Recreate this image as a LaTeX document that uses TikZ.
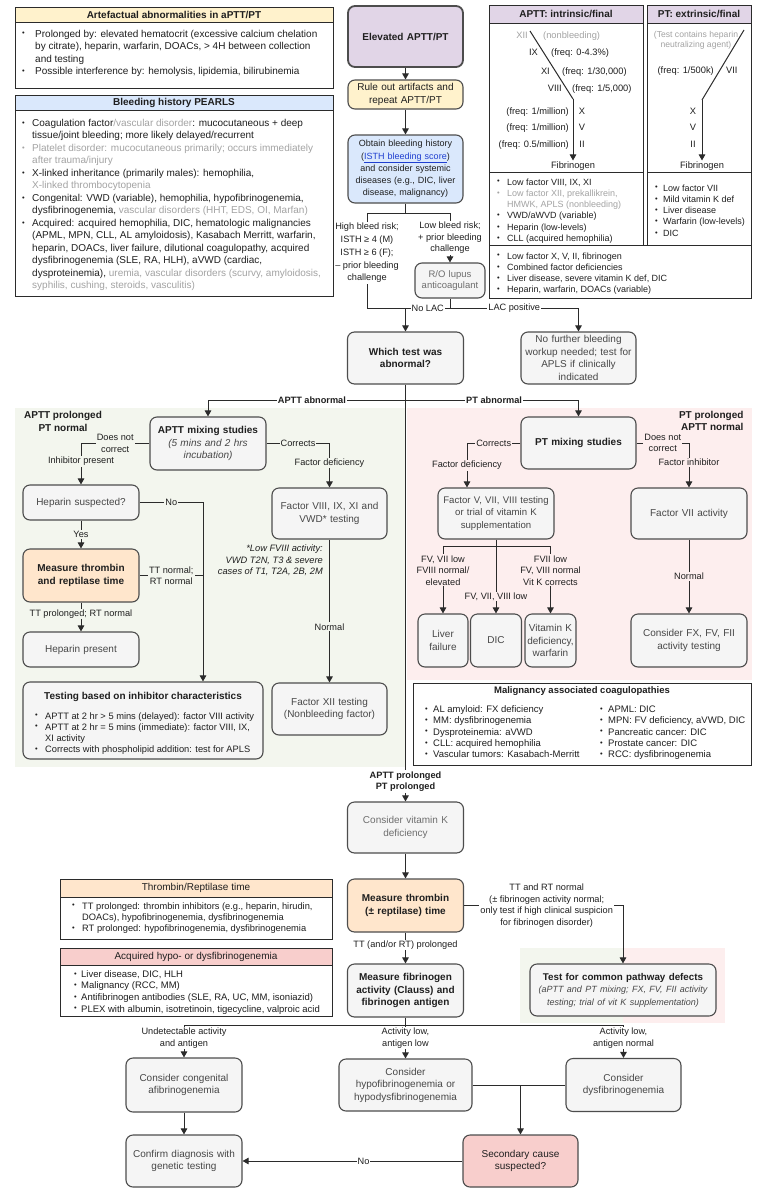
\documentclass[tikz,border=0pt]{standalone}
\usepackage{fontspec}
\setmainfont{Liberation Sans}
\usetikzlibrary{arrows.meta}
\definecolor{purp}{HTML}{E1D5E7}
\definecolor{yel}{HTML}{FFF2CC}
\definecolor{blu}{HTML}{DAE8FC}
\definecolor{org}{HTML}{FFE6CC}
\definecolor{pnk}{HTML}{F8CECC}
\definecolor{gfill}{HTML}{F5F5F5}
\definecolor{bord}{HTML}{4D4D4D}
\definecolor{lnc}{HTML}{2B2B2B}
\definecolor{txd}{HTML}{1F1F1F}
\definecolor{txm}{HTML}{474747}
\definecolor{txl}{HTML}{6E6E6E}
\definecolor{txg}{HTML}{A3A3A3}
\definecolor{rgreen}{HTML}{F3F6EE}
\definecolor{rpink}{HTML}{FDEEEE}
\definecolor{linkc}{HTML}{1F3FD0}
\newcommand\fsA{\fontsize{10}{12.5}\selectfont}
\newcommand\fsC{\fontsize{9}{12.3}\selectfont}
\newcommand\fsL{\fontsize{9.2}{11.5}\selectfont}
\newcommand\fsH{\fontsize{9.2}{12.8}\selectfont}
\newcommand\fsT{\fontsize{10}{12.8}\selectfont}
\newcommand\fsS{\fontsize{9.3}{11.1}\selectfont}
\newcommand\fsP{\fontsize{10}{12.5}\selectfont}
\newcommand\fsK{\fontsize{9.3}{10.8}\selectfont}
\newcommand\fsR{\fontsize{9}{11.3}\selectfont}
\newcommand\fsQ{\fontsize{9.5}{11.5}\selectfont}
\newcommand\fsM{\fontsize{9.5}{11.4}\selectfont}
\newcommand\bdot{\raisebox{0.12em}{\fontsize{7.5}{7.5}\selectfont\textbullet}}
\newcommand\bul[3][txd]{\par\hangindent=#2\hangafter=1\noindent\makebox[#2][l]{\textcolor{#1}{\bdot}}\textcolor{#1}{#3}}
\newcommand\blist[2]{\begin{minipage}[t]{#1}\raggedright #2\end{minipage}}
\tikzset{
  fb/.style={draw=bord, line width=1.1pt, rounded corners=7pt, align=center, inner xsep=2pt, inner ysep=1pt, font=\fsA, text=txm, fill=gfill},
  ln/.style={draw=lnc, line width=1pt},
  arr/.style={draw=lnc, line width=1pt, -{Triangle[width=6.5pt,length=6pt]}},
  lbl/.style={font=\fsL, text=txd, inner sep=1pt, align=center, fill=white},
  lblg/.style={lbl, fill=rgreen},
  lblp/.style={lbl, fill=rpink},
  ibox/.style={draw=lnc, line width=1pt},
  lst/.style={anchor=base west, inner sep=0pt, text=txd},
  cas/.style={font=\fsK, text=txd, inner sep=0pt},
}
\begin{document}
\begin{tikzpicture}[x=1pt,y=-1pt]
\useasboundingbox (0,0) rectangle (768,1200);
\fill[white] (0,0) rectangle (768,1200);
% regions
\fill[rgreen] (15,408) rectangle (405,767);
\fill[rpink] (407,408) rectangle (752,680);
\fill[rgreen] (520,948) rectangle (623,1023);
\fill[rpink] (623,948) rectangle (725,1023);

% ---------- top-left info boxes
\filldraw[ibox, fill=yel] (15,7) rectangle (333,22);
\draw[ibox] (15,22) rectangle (333,88);
\node[font=\fsT\bfseries, text=txd] (artT) at (174,14.5) {Artefactual abnormalities in aPTT/PT};
\node[lst, font=\fsP] (artL) at (22,37) {\blist{320pt}{\bul{13pt}{Prolonged by: elevated hematocrit (excessive calcium chelation\newline by citrate), heparin, warfarin, DOACs, > 4H between collection\newline and testing}\bul{13pt}{Possible interference by: hemolysis, lipidemia, bilirubinemia}}};

\filldraw[ibox, fill=blu] (15,95) rectangle (333,110);
\draw[ibox] (15,110) rectangle (333,296);
\node[font=\fsT\bfseries, text=txd] (pearlT) at (174,102.5) {Bleeding history PEARLS};
\node[lst, font=\fsP] (pearlL) at (22,126.3) {\blist{330pt}{%
\bul{10pt}{Coagulation factor\textcolor{txg}{/vascular disorder}: mucocutaneous + deep\newline tissue/joint bleeding; more likely delayed/recurrent}%
\bul[txg]{10pt}{Platelet disorder: mucocutaneous primarily; occurs immediately\newline after trauma/injury}%
\bul{10pt}{X-linked inheritance (primarily males): hemophilia,\newline \textcolor{txg}{X-linked thrombocytopenia}}%
\bul{10pt}{Congenital: VWD (variable), hemophilia, hypofibrinogenemia,\newline dysfibrinogenemia, \textcolor{txg}{vascular disorders (HHT, EDS, OI, Marfan)}}%
\bul{10pt}{Acquired: acquired hemophilia, DIC, hematologic malignancies\newline (APML, MPN, CLL, AL amyloidosis), Kasabach Merritt, warfarin,\newline heparin, DOACs, liver failure, dilutional coagulopathy, acquired\newline dysfibrinogenemia (SLE, RA, HLH), aVWD (cardiac,\newline dysproteinemia), \textcolor{txg}{uremia, vascular disorders (scurvy, amyloidosis,\newline syphilis, cushing, steroids, vasculitis)}}}};

% ---------- top-right tables
\filldraw[ibox, fill=purp] (489,5) rectangle (643,23);
\draw[ibox] (489,23) rectangle (643,172);
\draw[ibox] (489,172) rectangle (643,245);
\filldraw[ibox, fill=purp] (647,5) rectangle (751,23);
\draw[ibox] (647,23) rectangle (751,172);
\draw[ibox] (647,172) rectangle (751,245);
\draw[ibox] (489,245) rectangle (751,298);
\node[font=\fsT\bfseries, text=txd] (aptH) at (566,14) {APTT: intrinsic/final};
\node[font=\fsT\bfseries, text=txd] (ptH) at (699,14) {PT: extrinsic/final};

\coordinate (a0) at (530,31);
\coordinate (a1) at (573,99);
\node[cas, inner sep=1pt] (afib) at (573,166) {Fibrinogen};
\draw[ln] (a0) -- (a1);
\draw[arr] (a1) -- (afib.north);
\node[cas, anchor=base east, text=txg] (c12) at (528,38.3) {XII};
\node[cas, anchor=base west, text=txg] (c12f) at (543,38.3) {(nonbleeding)};
\node[cas, anchor=base east] (c9) at (538,55.3) {IX};
\node[cas, anchor=base west] (c9f) at (551,55.3) {(freq: 0-4.3\%)};
\node[cas, anchor=base east] (c11) at (550,74.3) {XI};
\node[cas, anchor=base west] (c11f) at (562,74.3) {(freq: 1/30,000)};
\node[cas, anchor=base east] (c8) at (562,91.3) {VIII};
\node[cas, anchor=base west] (c8f) at (572,91.3) {(freq: 1/5,000)};
\node[cas, anchor=base east] (c10f) at (569,114.3) {(freq: 1/million)};
\node[cas, anchor=base] (c10) at (582,114.3) {X};
\node[cas, anchor=base east] (c5f) at (569,130.3) {(freq: 1/million)};
\node[cas, anchor=base] (c5) at (582,130.3) {V};
\node[cas, anchor=base east] (c2f) at (569,147.3) {(freq: 0.5/million)};
\node[cas, anchor=base] (c2) at (582,147.3) {II};

\node[cas, text=txg, align=center, font=\fontsize{8.6}{10.5}\selectfont] (ptn) at (696,40.5) {(Test contains heparin\\neutralizing agent)};
\coordinate (b0) at (744,30);
\coordinate (b1) at (702,100);
\node[cas, inner sep=1pt] (pfib) at (702,166) {Fibrinogen};
\draw[ln] (b0) -- (b1);
\draw[arr] (b1) -- (pfib.north);
\node[cas, anchor=base east] (c7f) at (714,73.3) {(freq: 1/500k)};
\node[cas, anchor=base west] (c7) at (726,73.3) {VII};
\node[cas, anchor=base] (p10) at (693,114.3) {X};
\node[cas, anchor=base] (p5) at (693,130.3) {V};
\node[cas, anchor=base] (p2) at (693,147.3) {II};

\node[lst, font=\fsR] (aptL) at (497,185) {\blist{145pt}{\bul{10pt}{Low factor VIII, IX, XI}\bul[txg]{10pt}{Low factor XII, prekallikrein,\newline HMWK, APLS (nonbleeding)}\bul{10pt}{VWD/aWVD (variable)}\bul{10pt}{Heparin (low-levels)}\bul{10pt}{CLL (acquired hemophilia)}}};
\node[lst, font=\fsR] (ptL) at (655,191) {\blist{96pt}{\bul{8pt}{Low factor VII}\bul{8pt}{Mild vitamin K def}\bul{8pt}{Liver disease}\bul{8pt}{Warfarin (low-levels)}\bul{8pt}{DIC}}};
\node[lst, font=\fsR] (bothL) at (497,259) {\blist{250pt}{\bul{10pt}{Low factor X, V, II, fibrinogen}\bul{10pt}{Combined factor deficiencies}\bul{10pt}{Liver disease, severe vitamin K def, DIC}\bul{10pt}{Heparin, warfarin, DOACs (variable)}}};

% ---------- center column
\node[fb, fill=purp, text=txd, line width=1.8pt, font=\fsA\bfseries, minimum width=115pt, minimum height=61pt, text width=109pt] (elev) at (405.5,36.5) {Elevated APTT/PT};
\node[fb, fill=yel, text=txd, minimum width=115pt, minimum height=29pt, text width=111pt] (rule) at (405.5,94.5) {Rule out artifacts and\\repeat APTT/PT};
\node[fb, fill=blu, text=txd, font=\fsC, minimum width=115pt, minimum height=68pt, text width=111pt] (obtain) at (405.5,169) {Obtain bleeding history\\(\textcolor{linkc}{\underline{ISTH bleeding score}})\\and consider systemic\\diseases (e.g., DIC, liver\\disease, malignancy)};
\node[fb, text=txl, font=\fsQ, minimum width=70pt, minimum height=35pt, text width=66pt] (lupus) at (450,280.5) {R/O lupus\\anticoagulant};
\node[fb, text=txd, font=\fsA\bfseries, minimum width=116pt, minimum height=52pt, text width=112pt] (which) at (405.5,358) {Which test was\\abnormal?};
\node[fb, text=txm, minimum width=115pt, minimum height=52pt, text width=111pt] (nofurther) at (578.5,358) {No further bleeding\\workup needed; test for\\APLS if clinically\\indicated};

% ---------- left section
\node[font=\fsT\bfseries, text=txd, align=center] (lgl) at (63,421.5) {APTT prolonged\\PT normal};
\node[fb, text=txd, minimum width=116pt, minimum height=53pt, text width=112pt] (aptmix) at (208,443.5) {\textbf{APTT mixing studies}\\\textcolor{txm}{\textit{(5 mins and 2 hrs}}\\\textcolor{txm}{\textit{incubation)}}};
\node[fb, minimum width=116pt, minimum height=35pt, text width=112pt] (hepsus) at (81,502.5) {Heparin suspected?};
\node[fb, fill=org, text=txd, font=\fsA\bfseries, minimum width=116pt, minimum height=53pt, text width=112pt] (measTR) at (81,575.5) {Measure thrombin\\and reptilase time};
\node[fb, minimum width=116pt, minimum height=35pt, text width=112pt] (heppres) at (81,649.5) {Heparin present};
\node[fb, minimum width=240pt, minimum height=77pt] (testinh) at (143,720.5) {};
\node[font=\fsT\bfseries, text=txd] (testinhT) at (143,697) {Testing based on inhibitor characteristics};
\node[lst, font=\fsS] (testinhL) at (35,719) {\blist{226pt}{\bul{10pt}{APTT at 2 hr > 5 mins (delayed): factor VIII activity}\bul{10pt}{APTT at 2 hr = 5 mins (immediate): factor VIII, IX,\newline XI activity}\bul{10pt}{Corrects with phospholipid addition: test for APLS}}};
\node[fb, minimum width=115pt, minimum height=51pt, text width=111pt] (f8) at (329.5,513.5) {Factor VIII, IX, XI and\\VWD* testing};
\node[anchor=north east, align=right, font=\fsS\itshape, text=txd, inner sep=0pt] (f8note) at (323,545) {*Low FVIII activity:\\VWD T2N, T3 \& severe\\cases of T1, T2A, 2B, 2M};
\node[fb, minimum width=115pt, minimum height=52pt, text width=111pt] (f12) at (329.5,709) {Factor XII testing\\(Nonbleeding factor)};

% ---------- right section
\node[font=\fsT\bfseries, text=txd, align=right, anchor=east] (rgl) at (747,421) {PT prolonged\\APTT normal};
\node[fb, text=txd, font=\fsA\bfseries, minimum width=115pt, minimum height=52pt, text width=111pt] (ptmix) at (578.5,443) {PT mixing studies};
\node[fb, font=\fontsize{9.6}{12.5}\selectfont, minimum width=116pt, minimum height=51pt, text width=114pt, inner xsep=1pt] (f5) at (496,513.5) {Factor V, VII, VIII testing\\or trial of vitamin K\\supplementation};
\node[fb, minimum width=116pt, minimum height=51pt, text width=112pt] (f7) at (689,513.5) {Factor VII activity};
\node[fb, minimum width=50pt, minimum height=53pt, text width=48pt, inner xsep=1pt] (liver) at (443,640.5) {Liver\\failure};
\node[fb, minimum width=51pt, minimum height=53pt, text width=49pt, inner xsep=1pt] (dic) at (496,640.5) {DIC};
\node[fb, minimum width=51pt, minimum height=53pt, text width=49pt, inner xsep=1pt] (vitk) at (550.5,640.5) {Vitamin K\\deficiency,\\warfarin};
\node[fb, minimum width=116pt, minimum height=53pt, text width=112pt] (fx) at (689,640.5) {Consider FX, FV, FII\\activity testing};

\draw[ibox, fill=white] (413,683) rectangle (751,765);
\node[font=\fontsize{9.5}{12}\selectfont\bfseries, text=txd] (maligT) at (582,691) {Malignancy associated coagulopathies};
\node[lst, font=\fsM] (maligL) at (425,712.3) {\blist{172pt}{\bul{8pt}{AL amyloid: FX deficiency}\bul{8pt}{MM: dysfibrinogenemia}\bul{8pt}{Dysproteinemia: aVWD}\bul{8pt}{CLL: acquired hemophilia}\bul{8pt}{Vascular tumors: Kasabach-Merritt}}};
\node[lst, font=\fsM] (maligR) at (600,712.3) {\blist{150pt}{\bul{8pt}{APML: DIC}\bul{8pt}{MPN: FV deficiency, aVWD, DIC}\bul{8pt}{Pancreatic cancer: DIC}\bul{8pt}{Prostate cancer: DIC}\bul{8pt}{RCC: dysfibrinogenemia}}};

% ---------- lower section
\node[lbl, font=\fsL\bfseries] (ppl) at (405.5,781.5) {APTT prolonged\\PT prolonged};
\node[fb, text=txl, minimum width=116pt, minimum height=51pt, text width=112pt] (vitkdef) at (405.5,827.5) {Consider vitamin K\\deficiency};
\node[fb, fill=org, text=txd, font=\fsA\bfseries, minimum width=116pt, minimum height=53pt, text width=112pt] (measT) at (405.5,905.5) {Measure thrombin\\(± reptilase) time};
\node[fb, text=txd, font=\fsA\bfseries, minimum width=116pt, minimum height=53pt, text width=112pt] (measF) at (405.5,990.5) {Measure fibrinogen\\activity (Clauss) and\\fibrinogen antigen};
\node[fb, text=txd, minimum width=186pt, minimum height=52pt, text width=182pt] (common) at (623,990) {{\fontsize{9.8}{12.5}\selectfont\bfseries Test for common pathway defects}\\{\fontsize{9}{12.5}\selectfont\itshape\color{txm}(aPTT and PT mixing; FX, FV, FII activity}\\{\fontsize{9}{12.5}\selectfont\itshape\color{txm}testing; trial of vit K supplementation)}};
\node[fb, minimum width=116pt, minimum height=54pt, text width=112pt] (congen) at (184,1085) {Consider congenital\\afibrinogenemia};
\node[fb, minimum width=133pt, minimum height=52pt, text width=129pt] (hypo) at (405.5,1085) {Consider\\hypofibrinogenemia or\\hypodysfibrinogenemia};
\node[fb, minimum width=115pt, minimum height=53pt, text width=111pt] (dys) at (623.5,1085) {Consider\\dysfibrinogenemia};
\node[fb, fill=pnk, text=txd, minimum width=115pt, minimum height=52pt, text width=111pt] (sec) at (520.5,1161) {Secondary cause\\suspected?};
\node[fb, minimum width=116pt, minimum height=52pt, text width=112pt] (confirm) at (184,1161) {Confirm diagnosis with\\genetic testing};

% ---------- bottom-left info boxes
\filldraw[ibox, fill=org] (60,879) rectangle (332,897);
\draw[ibox] (60,897) rectangle (332,939);
\node[font=\fsT, text=txd] (trT) at (196,888) {Thrombin/Reptilase time};
\node[lst, font=\fsS] (trL) at (72,909) {\blist{258pt}{\bul{10pt}{TT prolonged: thrombin inhibitors (e.g., heparin, hirudin,\newline DOACs), hypofibrinogenemia, dysfibrinogenemia}\bul{10pt}{RT prolonged: hypofibrinogenemia, dysfibrinogenemia}}};
\filldraw[ibox, fill=pnk] (60,948) rectangle (332,965);
\draw[ibox] (60,965) rectangle (332,1016);
\node[font=\fsT, text=txd] (acqT) at (196,956.5) {Acquired hypo- or dysfibrinogenemia};
\node[lst, font=\fontsize{9.5}{11.6}\selectfont] (acqL) at (74,977.3) {\blist{258pt}{\bul{7pt}{Liver disease, DIC, HLH}\bul{7pt}{Malignancy (RCC, MM)}\bul{7pt}{Antifibrinogen antibodies (SLE, RA, UC, MM, isoniazid)}\bul{7pt}{PLEX with albumin, isotretinoin, tigecycline, valproic acid}}};

% ---------- connectors: top
\draw[arr] (elev.south) -- (rule.north);
\draw[arr] (rule.south) -- (obtain.north);
\coordinate (sp) at (405.5,213);
\coordinate (spL) at (367,213);
\coordinate (spR) at (450,213);
\coordinate (jn) at (405.5,308);
\coordinate (lj) at (450,308);
\draw[ln] (obtain.south) -- (sp);
\draw[ln] (spL) -- (spR);
\draw[ln] (spL) -- node[lbl, font=\fsH, pos=0.42]{High bleed risk;\\ISTH ≥ 4 (M)\\ISTH ≥ 6 (F);\\– prior bleeding\\challenge} (spL |- jn) -- (jn);
\draw[arr] (jn) -- (which.north);
\draw[arr] (spR) -- node[lbl]{Low bleed risk;\\+ prior bleeding\\challenge} (lupus.north);
\draw[ln] (lupus.south) -- (lj);
\draw[ln] (lj) -- node[lbl]{No LAC} (jn);
\draw[arr] (lj) -- node[lbl]{LAC positive} (lj -| nofurther.north) -- (nofurther.north);

\coordinate (wj) at (405.5,400);
\draw[ln] (which.south) -- (ppl.north);
\draw[arr] (wj) -| node[lbl, font=\fsL\bfseries, pos=0.237]{APTT abnormal} (aptmix.north);
\draw[arr] (wj) -| node[lbl, font=\fsL\bfseries, pos=0.256]{PT abnormal} (ptmix.north);

% left
\draw[arr] (aptmix.west) -| node[lblg, pos=0.25]{Does not\\correct} node[lblg, pos=0.72]{Inhibitor present} (hepsus.north);
\draw[arr] (aptmix.east) -| node[lblg, pos=0.25]{Corrects} node[lblg, pos=0.72]{Factor deficiency} (f8.north);
\coordinate (nox) at (203,502.5);
\draw[arr] (hepsus.east) -- node[lblg]{No} (nox) -- (nox |- testinh.north);
\draw[ln] (measTR.east) -- node[lblg]{TT normal;\\RT normal} (measTR.east -| nox);
\draw[arr] (hepsus.south) -- node[lblg]{Yes} (measTR.north);
\draw[arr] (measTR.south) -- node[lblg, pos=0.4]{TT prolonged; RT normal} (heppres.north);
\draw[arr] (f8.south) -- node[lblg, pos=0.61]{Normal} (f12.north);

% right
\coordinate (fdx) at (467,443);
\draw[arr] (ptmix.west) -- node[lblp]{Corrects} (fdx) -- node[lblp]{Factor deficiency} (fdx |- f5.north);
\draw[arr] (ptmix.east) -| node[lblp, pos=0.25]{Does not\\correct} node[lblp, pos=0.72]{Factor inhibitor} (f7.north);
\coordinate (fbL) at (443,546);
\coordinate (fbR) at (550.5,546);
\draw[ln] (fbL) -- (fbR);
\draw[arr] (f5.south) -- node[lblp, pos=0.77]{FV, VII, VIII low} (dic.north);
\draw[arr] (fbL) -- node[lblp, pos=0.36]{FV, VII low\\FVIII normal/\\elevated} (liver.north);
\draw[arr] (fbR) -- node[lblp, pos=0.36]{FVII low\\FV, VIII normal\\Vit K corrects} (vitk.north);
\draw[arr] (f7.south) -- node[lblp]{Normal} (fx.north);

% lower
\draw[arr] (ppl.south) -- (vitkdef.north);
\draw[arr] (vitkdef.south) -- (measT.north);
\coordinate (tc) at (623,905.5);
\draw[arr] (measT.east) -- node[lbl, pos=0.52]{TT and RT normal\\(± fibrinogen activity normal;\\only test if high clinical suspicion\\for fibrinogen disorder)} (tc) -- (tc |- common.north);
\draw[arr] (measT.south) -- node[lbl, pos=0.4]{TT (and/or RT) prolonged} (measF.north);
\coordinate (fjL) at (184,1025);
\coordinate (fjR) at (623.5,1025);
\draw[ln] (fjL) -- (fjR);
\draw[arr] (measF.south) -- node[lbl, pos=0.5]{Activity low,\\antigen low} (hypo.north);
\draw[arr] (fjL) -- node[lbl, pos=0.4]{Undetectable activity\\and antigen} (congen.north);
\draw[arr] (fjR) -- node[lbl, pos=0.4]{Activity low,\\antigen normal} (dys.north);
\coordinate (sj) at (520.5,1085);
\draw[ln] (hypo.east) -- (dys.west);
\draw[arr] (sj) -- (sec.north);
\draw[arr] (congen.south) -- (confirm.north);
\draw[arr] (sec.west) -- node[lbl, pos=0.45]{No} (confirm.east);
\end{tikzpicture}
\end{document}
